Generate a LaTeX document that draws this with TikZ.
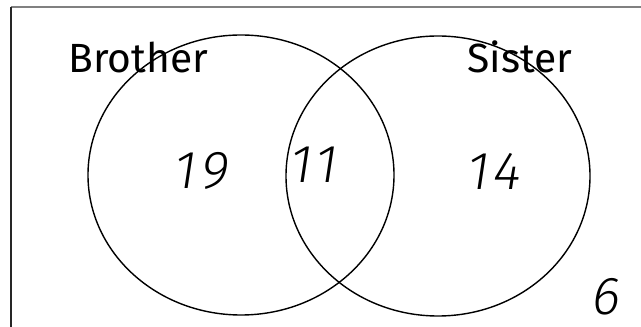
\documentclass[tikz,border=0pt]{standalone}
\usepackage{fontspec}
\usepackage{xcolor}
\usepackage{tikz}
\setmainfont{Fira Sans}
\newfontfamily\handfont{Fira Sans Light}[FakeSlant=0.15,LetterSpace=8]

\begin{document}
\begin{tikzpicture}
    \useasboundingbox (0,0) rectangle (16.025,8.175);
    % Borde del universo (solo arriba e izquierda)
    \draw[line width = 1.2pt, gray] (0.275,8.0) -- (16.025,8.0);
    \draw[line width = 1.2pt, black!85] (0.275,8.0) -- (0.275,0);

    % Conjuntos
    \draw[line width = 1pt] (6.025,3.8) ellipse (3.825 and 3.5);   % Hermano
    \draw[line width = 1pt] (10.95,3.775) ellipse (3.8 and 3.5);   % Hermana

    % Etiquetas
    \node[anchor=base west, inner sep=0pt, font=\fontsize{29}{32}\selectfont] (brother) at (1.7,6.35) {Brother};
    \node[anchor=base west, inner sep=0pt, font=\fontsize{29}{32}\selectfont] (sister) at (11.675,6.35) {Sister};

    % Cantidades
    \node[font=\handfont\fontsize{38}{40}\selectfont] (onlyb) at (5.0,3.9) {19};    % solo hermano
    \node[font=\handfont\fontsize{38}{40}\selectfont] (both) at (7.8,4.05) {11};     % ambos
    \node[font=\handfont\fontsize{38}{40}\selectfont] (onlys) at (12.3,3.9) {14};   % solo hermana
    \node[font=\handfont\fontsize{38}{40}\selectfont] (neither) at (15.1,0.75) {6};  % ninguno
\end{tikzpicture}
\end{document}
